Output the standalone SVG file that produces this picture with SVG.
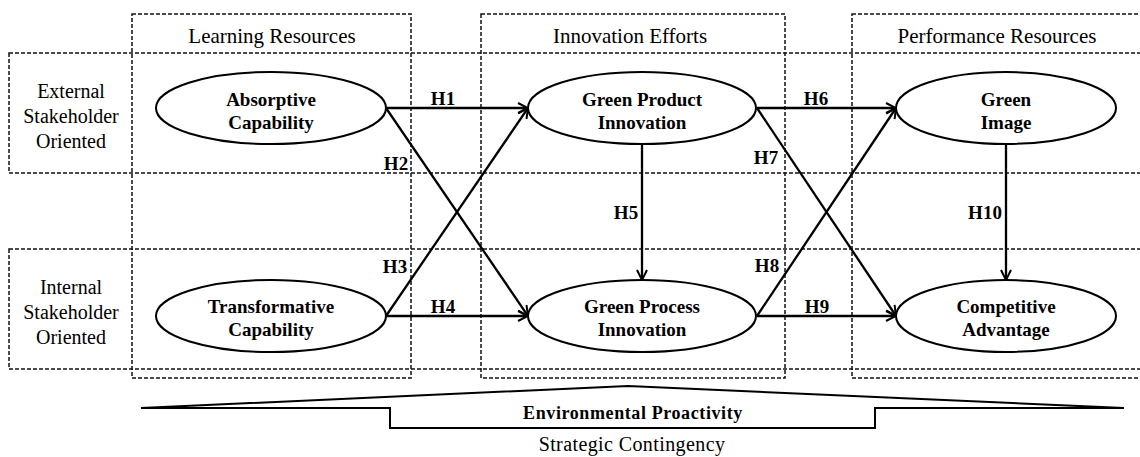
<svg xmlns="http://www.w3.org/2000/svg" width="1140" height="457" viewBox="0 0 1140 457">
<style>
  text { font-family: 'Liberation Serif', 'Times New Roman', 'DejaVu Serif', serif; fill: #000; text-anchor: middle; }
  .box { fill: none; stroke: #111; stroke-width: 1.5; stroke-dasharray: 4 2; }
  .hdr { font-size: 21px; }
  .row { font-size: 20px; }
  .ell { fill: #fff; stroke: #000; stroke-width: 2; }
  .nt { font-size: 19px; font-weight: bold; }
  .hl { font-size: 19px; font-weight: bold; }
  .con { fill: none; stroke: #000; stroke-width: 2.3; marker-end: url(#arr); }
  .wedge { fill: none; stroke: #000; stroke-width: 2; }
</style>
<defs>
  <marker id="arr" viewBox="0 0 12 12" refX="11" refY="6" markerWidth="12" markerHeight="12" markerUnits="userSpaceOnUse" orient="auto">
    <path d="M1,1 L11,6 L1,11" fill="none" stroke="#000" stroke-width="2"/>
  </marker>
</defs>
<rect width="1140" height="457" fill="#fff"/>

<g id="frames">
  <rect class="box" x="132" y="14" width="279" height="364"/>
  <rect class="box" x="481" y="14" width="304" height="364"/>
  <rect class="box" x="852" y="14" width="300" height="364"/>
  <rect class="box" x="9" y="53" width="1145" height="120"/>
  <rect class="box" x="9" y="249" width="1145" height="120"/>
  <text class="hdr" x="272" y="43">Learning Resources</text>
  <text class="hdr" x="630" y="43">Innovation Efforts</text>
  <text class="hdr" x="997" y="43">Performance Resources</text>
  <text class="row" x="71" y="98">External</text>
  <text class="row" x="71" y="123">Stakeholder</text>
  <text class="row" x="71" y="148">Oriented</text>
  <text class="row" x="71" y="294">Internal</text>
  <text class="row" x="71" y="319">Stakeholder</text>
  <text class="row" x="71" y="344">Oriented</text>
</g>

<g id="connectors">
  <line class="con" x1="386" y1="108" x2="528" y2="108"/>
  <line class="con" x1="386" y1="108" x2="528" y2="316"/>
  <line class="con" x1="386" y1="316" x2="528" y2="108"/>
  <line class="con" x1="386" y1="316" x2="528" y2="316"/>
  <line class="con" x1="642" y1="144" x2="642" y2="280"/>
  <line class="con" x1="757" y1="108" x2="896" y2="108"/>
  <line class="con" x1="757" y1="108" x2="896" y2="316"/>
  <line class="con" x1="757" y1="316" x2="896" y2="108"/>
  <line class="con" x1="757" y1="316" x2="896" y2="316"/>
  <line class="con" x1="1006" y1="144" x2="1006" y2="280"/>
  <text class="hl" x="443" y="105">H1</text>
  <text class="hl" x="396" y="170">H2</text>
  <text class="hl" x="395" y="273">H3</text>
  <text class="hl" x="443" y="313">H4</text>
  <text class="hl" x="626" y="219">H5</text>
  <text class="hl" x="816" y="105">H6</text>
  <text class="hl" x="766" y="164">H7</text>
  <text class="hl" x="767" y="272">H8</text>
  <text class="hl" x="817" y="313">H9</text>
  <text class="hl" x="985" y="219">H10</text>
</g>

<g id="absorptive">
  <ellipse class="ell" cx="271" cy="108" rx="115" ry="36"/>
  <text class="nt" x="271" y="106">Absorptive</text>
  <text class="nt" x="271" y="129">Capability</text>
</g>
<g id="transformative">
  <ellipse class="ell" cx="271" cy="316" rx="115" ry="36"/>
  <text class="nt" x="271" y="313">Transformative</text>
  <text class="nt" x="271" y="336">Capability</text>
</g>
<g id="green-product">
  <ellipse class="ell" cx="642" cy="108" rx="114" ry="36"/>
  <text class="nt" x="642" y="106">Green Product</text>
  <text class="nt" x="642" y="129">Innovation</text>
</g>
<g id="green-process">
  <ellipse class="ell" cx="642" cy="316" rx="114" ry="36"/>
  <text class="nt" x="642" y="313">Green Process</text>
  <text class="nt" x="642" y="336">Innovation</text>
</g>
<g id="green-image">
  <ellipse class="ell" cx="1006" cy="108" rx="110" ry="36"/>
  <text class="nt" x="1006" y="106">Green</text>
  <text class="nt" x="1006" y="129">Image</text>
</g>
<g id="competitive-advantage">
  <ellipse class="ell" cx="1006" cy="316" rx="110" ry="36"/>
  <text class="nt" x="1006" y="313">Competitive</text>
  <text class="nt" x="1006" y="336">Advantage</text>
</g>

<g id="contingency">
  <polyline class="wedge" stroke-width="1.6" points="141,408 628,386 1124,408"/>
  <polyline class="wedge" points="141,408 390,408 390,428 875,428 875,408 1124,408"/>
  <text x="633" y="419" font-size="18" font-weight="bold" letter-spacing="0.6">Environmental Proactivity</text>
  <text x="632" y="451" font-size="20" letter-spacing="0.4">Strategic Contingency</text>
</g>
</svg>
